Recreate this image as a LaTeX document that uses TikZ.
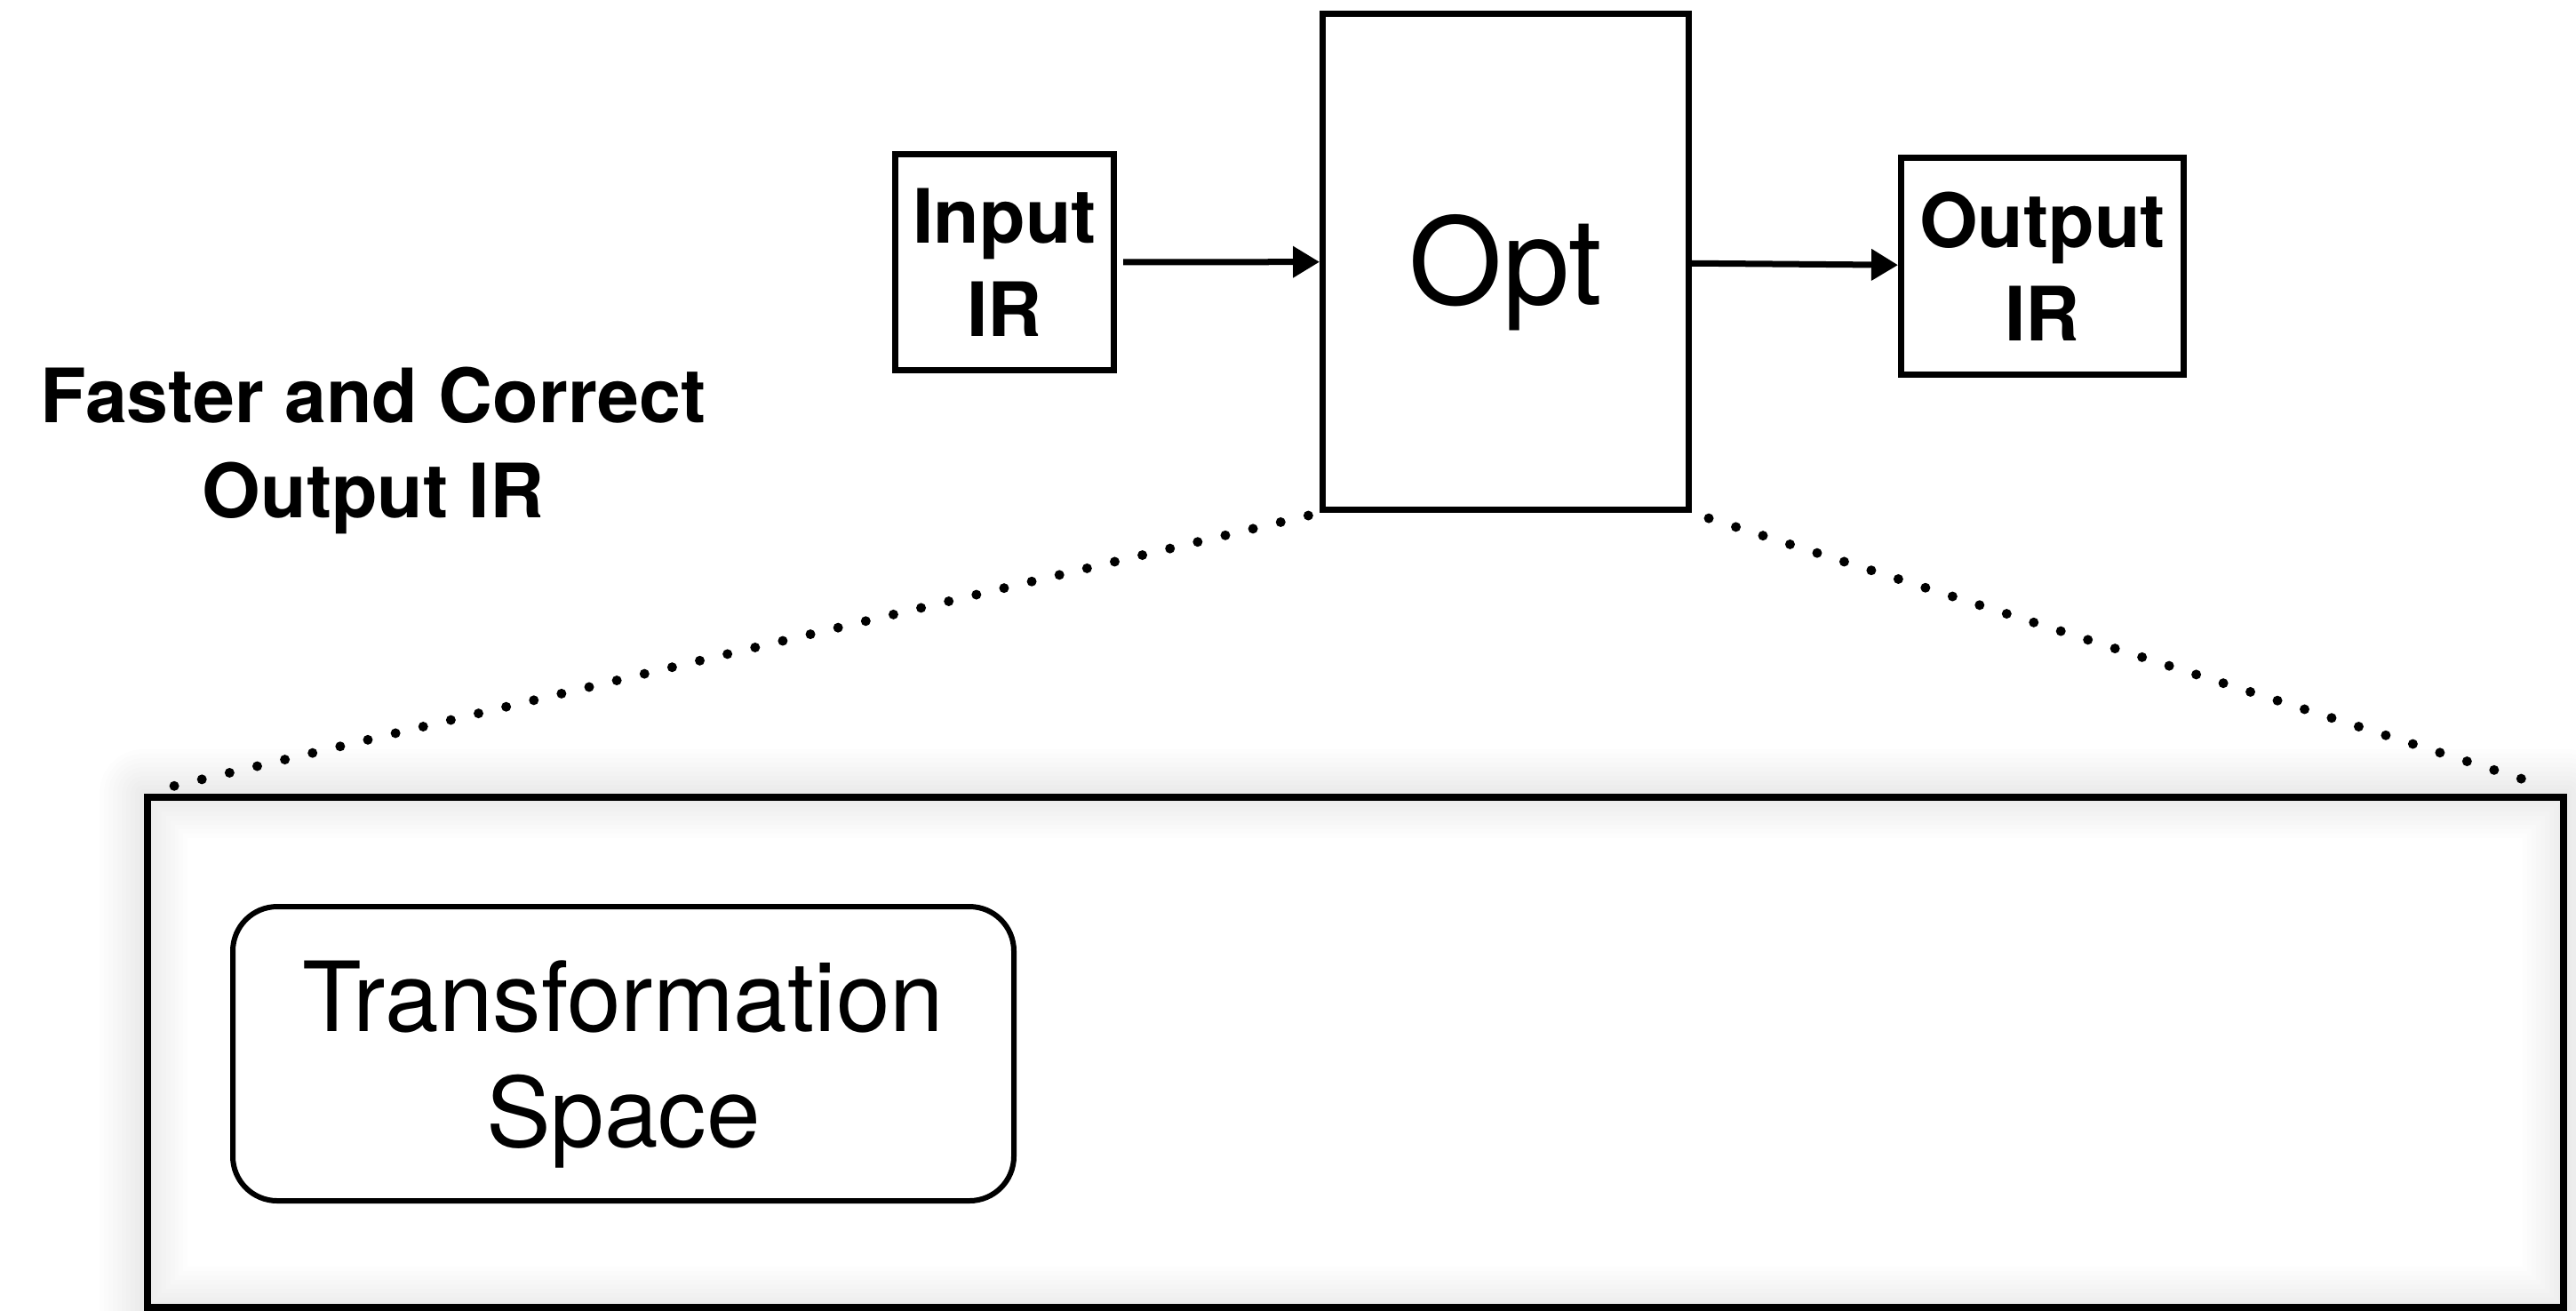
\documentclass[tikz,border=0pt]{standalone}
\usepackage{fontspec}
\setmainfont{TeX Gyre Heros}
\usetikzlibrary{arrows.meta}

\begin{document}
\begin{tikzpicture}[
    irbox/.style  = {draw, line width=0.07cm, inner sep=0pt, align=center,
                     font=\fontsize{24}{30}\selectfont\bfseries},
    flow/.style   = {line width=0.07cm, -{Triangle[length=0.3cm,width=0.34cm]}},
    dotline/.style= {line width=0.11cm, line cap=round, dash pattern=on 0pt off 0.32cm},
  ]
  \useasboundingbox (0,0) rectangle (28.99,-14.74);

  % pipeline on top
  \node [irbox, minimum width=2.46cm, minimum height=2.43cm] (inir) at (11.305,-2.95) {Input\\IR};
  \node [irbox, minimum width=4.12cm, minimum height=5.58cm, text depth=0.05cm,
         font=\fontsize{38.5}{46}\selectfont] (opt) at (16.945,-2.945) {Opt};
  \node [irbox, minimum width=3.18cm, minimum height=2.44cm] (outir) at (22.985,-2.995) {Output\\IR};
  \path[flow] (inir) edge[shorten <=0.07cm] (opt)
              (opt)  edge (outir);

  \node [align=center, font=\fontsize{24}{30.4}\selectfont\bfseries] (goal) at (4.20,-5.07) {Faster and Correct\\Output IR};

  % zoomed-in view of the optimizer
  \node [draw, line width=0.08cm, minimum width=27.19cm, minimum height=5.74cm] (detail) at (15.25,-11.835) {};
  \foreach \w in {0.1,0.2,...,1.0}
    \draw [black, opacity=0.009, line width=\w cm, line join=round] (detail.north west) rectangle (detail.south east);

  \node [draw, line width=0.06cm, rounded corners=0.5cm, minimum width=8.79cm, minimum height=3.31cm,
         align=center, text depth=0pt, font=\fontsize{31}{37}\selectfont] (tspace) at (7.015,-11.855) {Transformation\\Space};

  \draw [dotline, shorten <=0.13cm, shorten >=0.34cm] (opt.south west) -- (detail.north west);
  \draw [dotline, shorten <=0.2cm, shorten >=0.22cm] (opt.south east) -- (detail.north east);
\end{tikzpicture}
\end{document}
